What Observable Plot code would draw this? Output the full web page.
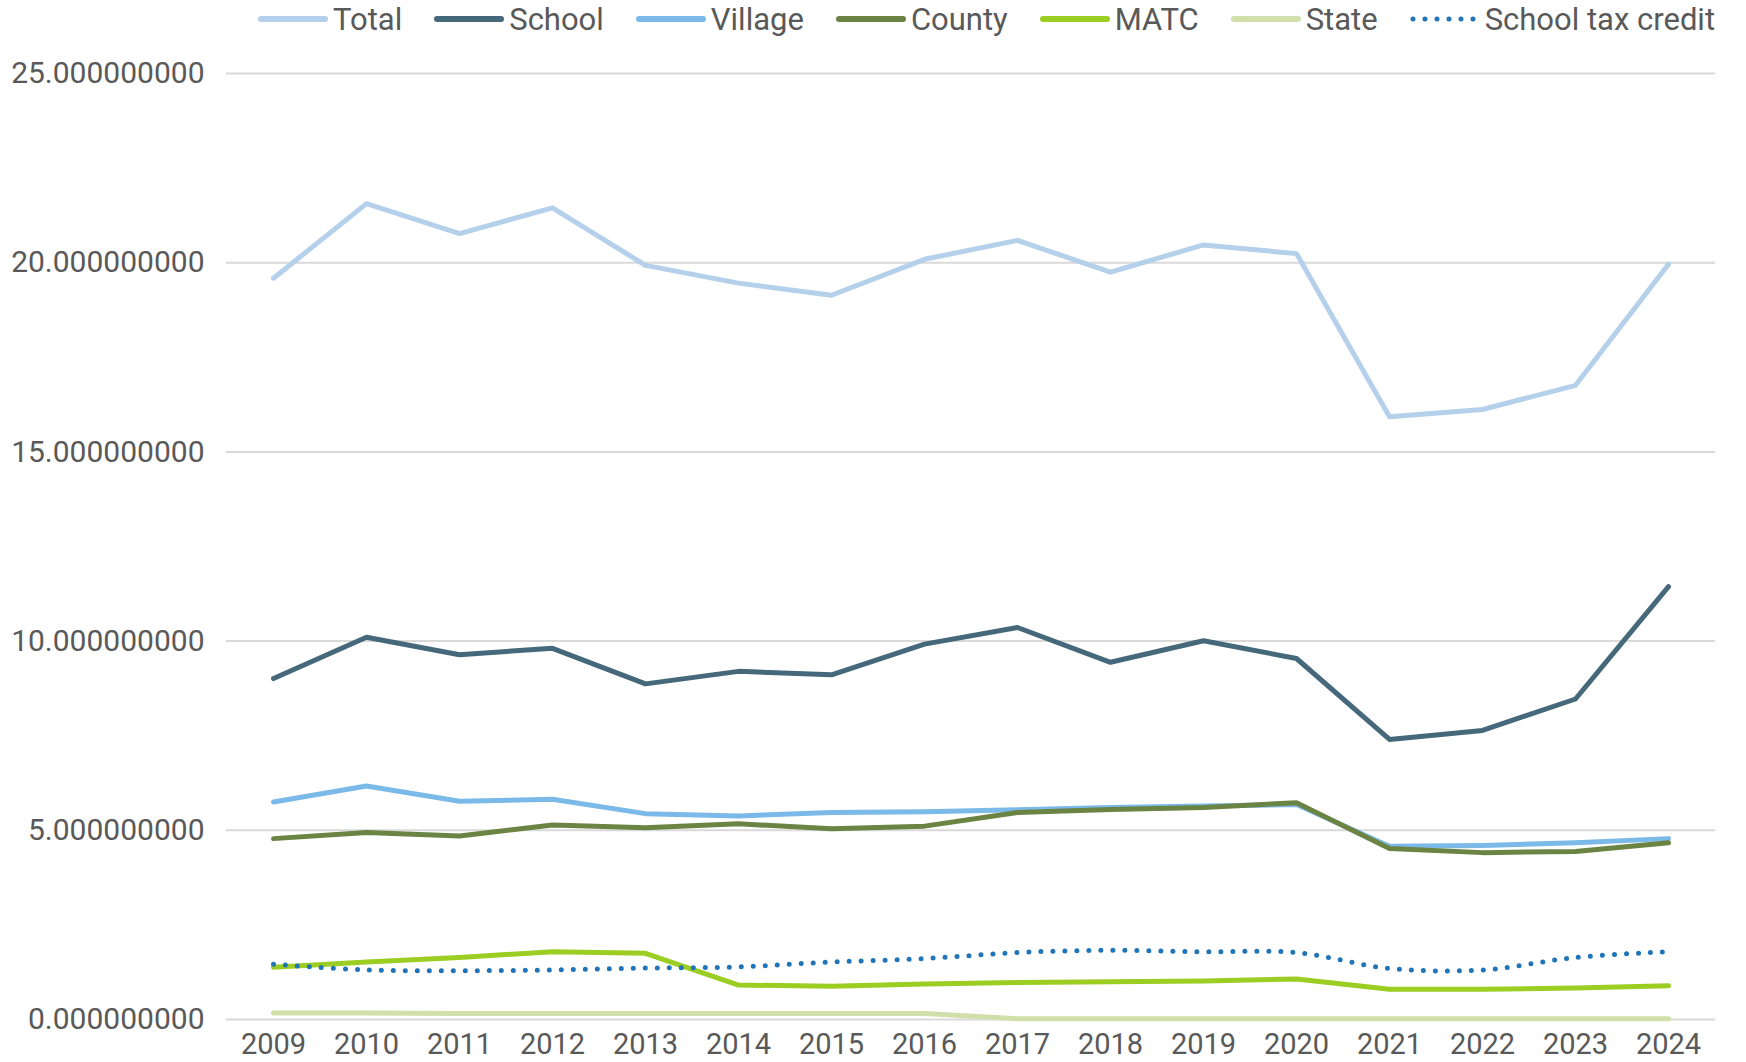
<!DOCTYPE html>
<html>
<head>
<meta charset="utf-8">
<script src="https://cdn.jsdelivr.net/npm/d3@7"></script>
<script src="https://cdn.jsdelivr.net/npm/@observablehq/plot@0.6"></script>
<style>
  html, body { margin: 0; padding: 0; background: #ffffff; }
  body { width: 1746px; height: 1062px; overflow: hidden; font-family: Roboto, "Noto Sans", sans-serif; }
  #legend { height: 38px; display: flex; align-items: center; padding-left: 258px; box-sizing: border-box; color: #595959; font-size: 31px; white-space: nowrap; }
  #legend .item { display: flex; align-items: center; margin-right: 32px; }
  #legend .item svg { display: block; margin-right: 5px; }
  #chart svg { display: block; }
</style>
</head>
<body>
<div id="legend"></div>
<div id="chart"></div>
<script>
// ---- data ----
const years = ["2009","2010","2011","2012","2013","2014","2015","2016","2017","2018","2019","2020","2021","2022","2023","2024"];
const total   = [19.59, 21.56, 20.77, 21.45, 19.93, 19.46, 19.14, 20.09, 20.59, 19.75, 20.47, 20.24, 15.93, 16.12, 16.76, 19.96];
const school  = [9.01, 10.10, 9.64, 9.81, 8.87, 9.20, 9.11, 9.92, 10.36, 9.44, 10.01, 9.54, 7.40, 7.64, 8.47, 11.44];
const village = [5.75, 6.17, 5.77, 5.82, 5.44, 5.38, 5.47, 5.49, 5.54, 5.60, 5.64, 5.68, 4.58, 4.60, 4.67, 4.78];
const county  = [4.78, 4.94, 4.85, 5.14, 5.07, 5.17, 5.04, 5.11, 5.47, 5.55, 5.60, 5.73, 4.52, 4.41, 4.44, 4.67];
const matc    = [1.38, 1.52, 1.64, 1.79, 1.75, 0.91, 0.88, 0.94, 0.98, 1.00, 1.02, 1.07, 0.80, 0.80, 0.83, 0.89];
const state   = [0.17, 0.17, 0.16, 0.16, 0.16, 0.16, 0.16, 0.16, 0.02, 0.02, 0.02, 0.02, 0.02, 0.02, 0.02, 0.02];
const taxCredit = [1.46, 1.31, 1.29, 1.31, 1.36, 1.39, 1.52, 1.61, 1.77, 1.83, 1.79, 1.77, 1.35, 1.31, 1.64, 1.79];
const seriesNames  = ["Total", "School", "Village", "County", "MATC", "State", "School tax credit"];
const seriesValues = [total, school, village, county, matc, state, taxCredit];
const seriesColors = ["#b4d0ea", "#45697a", "#7bbae8", "#6b8343", "#9bcd22", "#d1dfaa", "#1f75b8"];
const yTicks = [0, 5, 10, 15, 20, 25];

// ---- legend ----
const legend = document.getElementById("legend");
seriesNames.forEach((name, i) => {
  const item = document.createElement("div");
  item.className = "item";
  const dotted = name === "School tax credit";
  item.innerHTML =
    `<svg width="70" height="12"><line x1="3" x2="67" y1="6" y2="6" stroke="${seriesColors[i]}" stroke-width="${dotted ? 5 : 6}" stroke-linecap="round" ${dotted ? 'stroke-dasharray="0 12"' : ''}/></svg><span>${name}</span>`;
  legend.appendChild(item);
});

// ---- table ----
const rows = [];
seriesNames.forEach((name, s) => {
  years.forEach((yr, j) => rows.push({series: name, year: yr, value: seriesValues[s][j]}));
});

const solid = rows.filter(d => d.series !== "School tax credit");
const dotted = rows.filter(d => d.series === "School tax credit");

const chart = Plot.plot({
  width: 1746,
  height: 1024,
  marginTop: 35,
  marginBottom: 43,
  marginLeft: 226,
  marginRight: 31,
  style: { fontFamily: "Roboto, 'Noto Sans', sans-serif", fontSize: "30px", color: "#595959", background: "#ffffff", overflow: "visible" },
  x: { type: "point", domain: years, padding: 0.5, align: 0.5, label: null },
  y: { domain: [0, 25], label: null },
  color: { domain: seriesNames, range: seriesColors },
  marks: [
    Plot.ruleY(yTicks, { stroke: "#d9d9d9", strokeWidth: 2 }),
    Plot.axisY({ ticks: yTicks, tickSize: 0, tickPadding: 22, tickFormat: d => d.toFixed(9), fill: "#595959", fontSize: 30 }),
    Plot.axisX({ tickSize: 0, tickPadding: 14, fill: "#595959", fontSize: 29 }),
    Plot.line(solid, { x: "year", y: "value", z: "series", stroke: "series", strokeWidth: 5, strokeLinejoin: "round", strokeLinecap: "round" }),
    Plot.line(dotted, { x: "year", y: "value", stroke: "series", strokeWidth: 5, strokeDasharray: "0 12", strokeLinecap: "round", curve: "catmull-rom" })
  ]
});
document.getElementById("chart").appendChild(chart);
</script>
</body>
</html>
